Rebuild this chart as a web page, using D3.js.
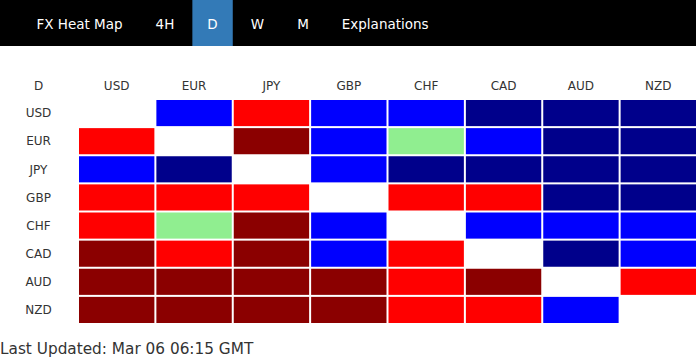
<!DOCTYPE html>
<html>
<head>
<meta charset="utf-8">
<script src="https://cdn.jsdelivr.net/npm/d3@7"></script>
<style>
  html, body { margin: 0; padding: 0; background: #fff; }
  svg { display: block; }
</style>
</head>
<body>
<svg id="chart" width="696" height="360"></svg>
<script>
// ---- data ----
const navItems = ["FX Heat Map", "4H", "D", "W", "M", "Explanations"];
const activeNav = "D";
const timeframe = "D";
const rowCurrencies = ["USD", "EUR", "JPY", "GBP", "CHF", "CAD", "AUD", "NZD"];
const colCurrencies = ["USD", "EUR", "JPY", "GBP", "CHF", "CAD", "AUD", "NZD"];
// strength levels: 2 strong up, 1 up, 0 neutral, -1 down, -2 strong down, null = same currency
const usdRow = [null, -1, 1, -1, -1, -2, -2, -2];
const eurRow = [1, null, 2, -1, 0, -1, -2, -2];
const jpyRow = [-1, -2, null, -1, -2, -2, -2, -2];
const gbpRow = [1, 1, 1, null, 1, 1, -2, -2];
const chfRow = [1, 0, 2, -1, null, -1, -1, -1];
const cadRow = [2, 1, 2, -1, 1, null, -2, -1];
const audRow = [2, 2, 2, 2, 1, 2, null, 1];
const nzdRow = [2, 2, 2, 2, 1, 1, -1, null];
const matrix = [usdRow, eurRow, jpyRow, gbpRow, chfRow, cadRow, audRow, nzdRow];
const levels = [-2, -1, 0, 1, 2];
const levelColors = ["#00008b", "#0000ff", "#90ee90", "#ff0000", "#8b0000"];
const lastUpdated = "Last Updated: Mar 06 06:15 GMT";

// ---- drawing ----
const W = 696, H = 360;
const svg = d3.select("#chart");
const font = "'DejaVu Sans', Verdana, sans-serif";

// nav bar
svg.append("rect").attr("x", 0).attr("y", 0).attr("width", W).attr("height", 46).attr("fill", "#000");
const navG = svg.append("g");
let xPos = 21.5;
const pad = 15, gap = 3;
navItems.forEach(label => {
  const g = navG.append("g");
  const bg = g.append("rect").attr("y", 0).attr("height", 46)
    .attr("fill", label === activeNav ? "#337ab7" : "none");
  const t = g.append("text")
    .attr("y", 29.3)
    .attr("font-family", font)
    .attr("font-size", 13.5)
    .attr("fill", "#fff")
    .text(label);
  const w = t.node().getComputedTextLength();
  bg.attr("x", xPos).attr("width", w + pad * 2);
  t.attr("x", xPos + pad);
  xPos += w + pad * 2 + gap;
});

// heat map scales
const x = d3.scaleBand().domain(colCurrencies).range([77, 696]);
const y = d3.scaleBand().domain(rowCurrencies).range([98, 323]);
const color = d3.scaleOrdinal().domain(levels).range(levelColors);
const labelX = 38.5;

// header
svg.append("text")
  .attr("x", labelX).attr("y", 86).attr("dy", "0.35em")
  .attr("text-anchor", "middle")
  .attr("font-family", font).attr("font-size", 12).attr("fill", "#333")
  .text(timeframe);

svg.append("g").selectAll("text").data(colCurrencies).join("text")
  .attr("x", d => x(d) + 2 + (x.bandwidth() - 2) / 2)
  .attr("y", 86).attr("dy", "0.35em")
  .attr("text-anchor", "middle")
  .attr("font-family", font).attr("font-size", 12).attr("fill", "#333")
  .text(d => d);

svg.append("g").selectAll("text").data(rowCurrencies).join("text")
  .attr("x", labelX)
  .attr("y", d => y(d) + 2 + (y.bandwidth() - 2) / 2).attr("dy", "0.35em")
  .attr("text-anchor", "middle")
  .attr("font-family", font).attr("font-size", 12).attr("fill", "#333")
  .text(d => d);

const cells = [];
matrix.forEach((row, i) => row.forEach((v, j) => {
  cells.push({ r: rowCurrencies[i], c: colCurrencies[j], v });
}));

svg.append("g").selectAll("rect").data(cells.filter(d => d.v !== null)).join("rect")
  .attr("x", d => x(d.c) + 2)
  .attr("y", d => y(d.r) + 2)
  .attr("width", x.bandwidth() - 2)
  .attr("height", y.bandwidth() - 2)
  .attr("fill", d => color(d.v));

svg.append("text")
  .attr("x", 0).attr("y", 354)
  .attr("font-family", font).attr("font-size", 15.3).attr("fill", "#333")
  .text(lastUpdated);
</script>
</body>
</html>
